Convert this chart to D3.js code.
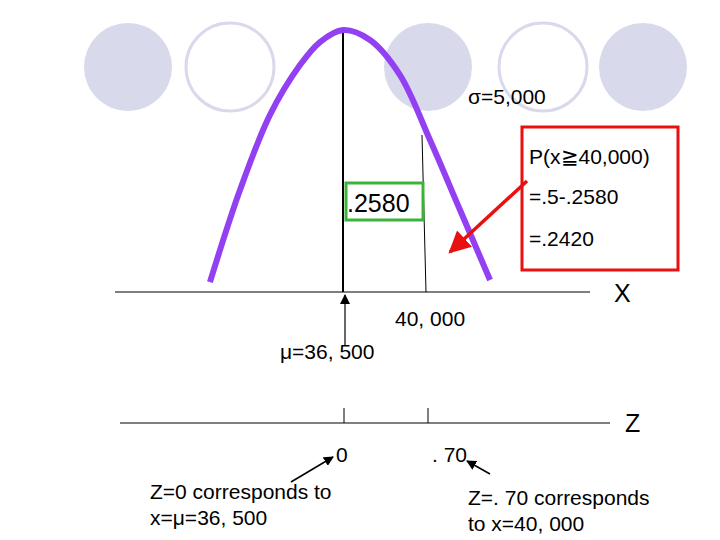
<!DOCTYPE html>
<html><head><meta charset="utf-8">
<script src="https://cdn.jsdelivr.net/npm/d3@7"></script>
<style>body{margin:0;background:#fff}text{font-family:"Liberation Sans",Arial,sans-serif}</style>
</head><body><svg id="c" width="720" height="540"></svg>
<script>
const curveX = [30890,32156,33421,34686,35530,36500,37639,38904,40169,41435,42700];
const curveH = [0.038,0.389,0.676,0.866,0.954,1,0.962,0.828,0.580,0.313,0.046];
const mu = 36500, xMark = 40000;
const zTicks = [0, 0.70];
const zTickLabels = ["0", ". 70"];

const svg = d3.select("#c");
[[128,true],[230,false],[428,true],[543,false],[643,true]].forEach(([cx,f])=>{
  svg.append("ellipse").attr("cx",cx).attr("cy",67).attr("rx",44).attr("ry",44)
    .attr("fill",f?"#d9d9ec":"none").attr("stroke",f?"none":"#d9d9ec").attr("stroke-width",3);
});
const x = d3.scaleLinear().domain([36500,40000]).range([343,426]);
const y = d3.scaleLinear().domain([0,1]).range([292,30]);
const z = d3.scaleLinear().domain([0,0.70]).range([344,428]);

svg.append("line").attr("x1",115).attr("x2",590).attr("y1",292).attr("y2",292).attr("stroke","#000").attr("stroke-width",1.2);
svg.append("line").attr("x1",x(mu)).attr("x2",x(mu)).attr("y1",y(1)).attr("y2",292).attr("stroke","#000").attr("stroke-width",2);
svg.append("line").attr("x1",x(xMark)-4).attr("x2",x(xMark)).attr("y1",135).attr("y2",292).attr("stroke","#000").attr("stroke-width",1);

svg.append("path").datum(curveX.map((v,i)=>[v,curveH[i]]))
  .attr("d",d3.line().x(d=>x(d[0])).y(d=>y(d[1])).curve(d3.curveCatmullRom))
  .attr("fill","none").attr("stroke","#9340f2").attr("stroke-width",6);

const defs = svg.append("defs");
function marker(id,color,size){
  defs.append("marker").attr("id",id).attr("viewBox","0 0 10 10").attr("refX",9).attr("refY",5)
   .attr("markerWidth",size).attr("markerHeight",size).attr("orient","auto").attr("markerUnits","userSpaceOnUse")
   .append("path").attr("d","M0,0L10,5L0,10z").attr("fill",color);
}
marker("ab","#000",10); marker("ar","#e81010",22);
function arrow(x1,y1,x2,y2,m,c,w){svg.append("line").attr("x1",x1).attr("y1",y1).attr("x2",x2).attr("y2",y2).attr("stroke",c).attr("stroke-width",w).attr("marker-end",`url(#${m})`);}

arrow(345,345,345,295,"ab","#000",1.2);
function t(s,tx,ty,sz,anchor){svg.append("text").attr("x",tx).attr("y",ty).attr("font-size",sz).attr("text-anchor",anchor||"start").text(s);}
t("σ=5,000",468,104,21);
t("40, 000",395,326,21);
t("μ=36, 500",280,359,21);
t("X",614,302,25);

svg.append("rect").attr("x",346).attr("y",183).attr("width",77).attr("height",37).attr("fill","none").attr("stroke","#3cb43c").attr("stroke-width",3);
t(".2580",347,212,25);
svg.append("rect").attr("x",522).attr("y",127).attr("width",156).attr("height",143).attr("fill","none").attr("stroke","#e81010").attr("stroke-width",3);
t("P(x≧40,000)",529,164,21);
t("=.5-.2580",529,204,21);
t("=.2420",529,246,21);
arrow(527,181,450,252,"ar","#e81010",3.5);

svg.append("line").attr("x1",120).attr("x2",610).attr("y1",423).attr("y2",423).attr("stroke","#000").attr("stroke-width",1.2);
zTicks.forEach(v=>{
  svg.append("line").attr("x1",z(v)).attr("x2",z(v)).attr("y1",408).attr("y2",423).attr("stroke","#000");
});
t(zTickLabels[0],z(0)-8,462,21);
t(zTickLabels[1],z(0.70)+4,462,21);
t("Z",625,432,25);

t("Z=0 corresponds to",150,499,21);
t("x=μ=36, 500",150,525,21);
arrow(291,482,333,457,"ab","#000",1.5);
t("Z=. 70 corresponds",468,505,21);
t("to x=40, 000",468,531,21);
arrow(490,474,467,461,"ab","#000",1.5);
</script></body></html>
